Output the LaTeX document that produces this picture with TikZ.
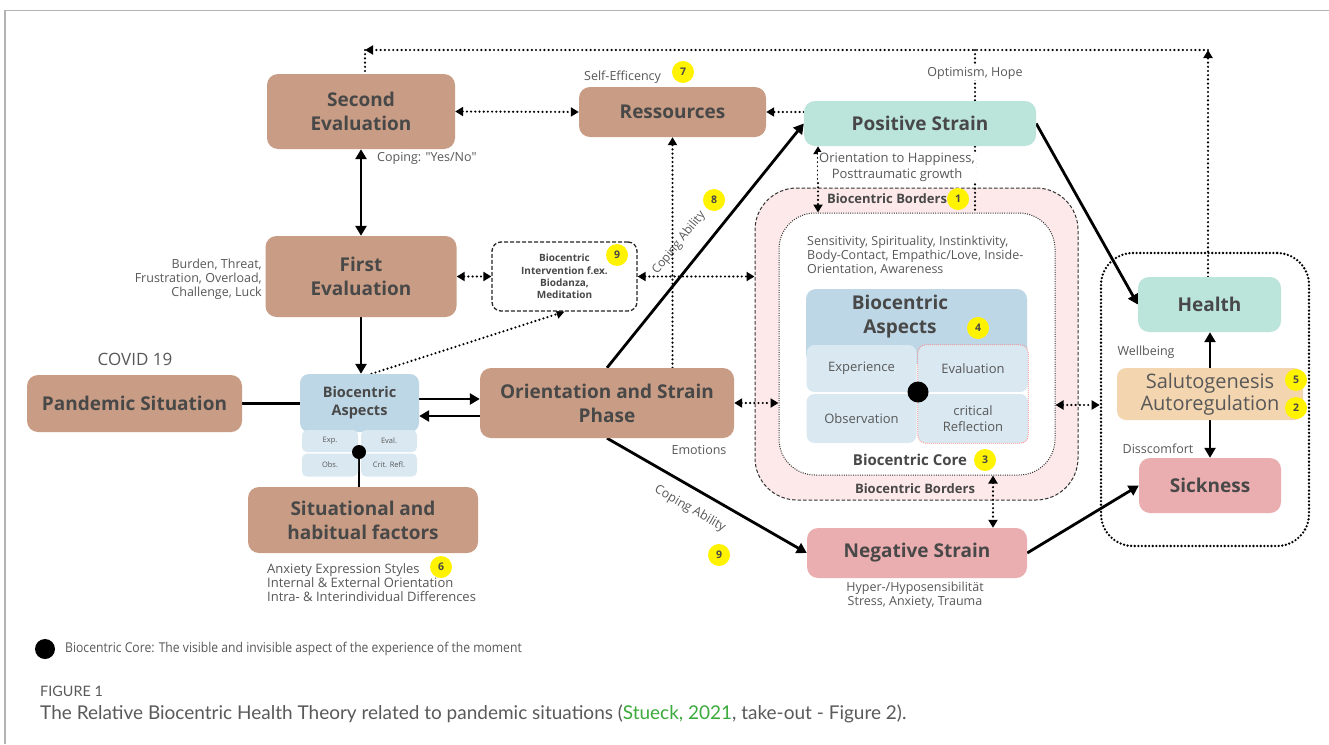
\documentclass[tikz,border=0pt]{standalone}
\usepackage{fontspec}
\setmainfont{Open Sans}
\newfontfamily\capfont{Lato}
\usetikzlibrary{arrows.meta}
\definecolor{brownbox}{RGB}{201,157,133}
\definecolor{tealbox}{RGB}{187,228,219}
\definecolor{pinkbox}{RGB}{235,174,176}
\definecolor{blueH}{RGB}{190,215,230}
\definecolor{blueS}{RGB}{217,232,241}
\definecolor{peach}{RGB}{243,213,176}
\definecolor{pinkbg}{RGB}{253,233,233}
\definecolor{txtc}{RGB}{72,72,72}
\definecolor{lblc}{RGB}{88,88,88}
\definecolor{yel}{RGB}{255,243,0}
\definecolor{capgreen}{RGB}{60,170,60}
\definecolor{capgray}{RGB}{90,90,90}
\pgfdeclarelayer{back}\pgfdeclarelayer{bg}\pgfsetlayers{back,bg,main}
\begin{document}
\begin{tikzpicture}[x=1pt,y=-1pt,
 bbox/.style={rectangle, rounded corners=11pt, inner sep=0pt, align=center, text=txtc, font=\bfseries\fontsize{19}{24}\selectfont},
 lbl/.style={inner sep=1pt, text=lblc, font=\fontsize{12.5}{14.5}\selectfont},
 ycirc/.style={circle, fill=yel, inner sep=0pt, minimum size=22pt, text=txtc, font=\bfseries\fontsize{10.5}{12}\selectfont},
 sarr/.style={line width=2.8pt, -{Triangle[length=10pt,width=11pt]}},
 sboth/.style={line width=2.8pt, {Triangle[length=10pt,width=11pt]}-{Triangle[length=10pt,width=11pt]}},
 sline/.style={line width=2.8pt},
 dline/.style={line width=2.4pt, line cap=round, dash pattern=on 0pt off 4.2pt},
 darr/.style={dline, -{Triangle[length=8pt,width=9pt]}},
 dboth/.style={dline, {Triangle[length=8pt,width=9pt]}-{Triangle[length=8pt,width=9pt]}},
 sub/.style={rectangle, rounded corners=8pt, fill=blueS, inner sep=0pt, align=center, text=lblc, font=\fontsize{13}{16}\selectfont},
 ssub/.style={rectangle, rounded corners=5pt, fill=blueS, inner sep=0pt, text=lblc, font=\fontsize{7.5}{9}\selectfont, minimum width=56pt},
]
\useasboundingbox (0,0) rectangle (1329,744);
\begin{pgfonlayer}{back}
\fill[white] (0,0) rectangle (1329,744);
\draw[gray!60, line width=1.2pt] (5,744) -- (5,10.5) -- (1329,10.5);
\node[draw=black!80, line width=1pt, dash pattern=on 3.5pt off 2pt, fill=pinkbg, rounded corners=42pt, minimum width=323pt, minimum height=312pt, inner sep=0pt] (outer) at (916.5,344) {};
\node[draw=black!80, line width=1pt, dash pattern=on 1pt off 1.3pt, fill=white, rounded corners=36pt, minimum width=276pt, minimum height=262pt, inner sep=0pt] (inner) at (917,344) {};
\node[draw=black, line width=2.6pt, line cap=round, dash pattern=on 0pt off 3.6pt, rounded corners=32pt, minimum width=208pt, minimum height=293pt, inner sep=0pt] (rg) at (1205,399.5) {};
\end{pgfonlayer}

% main boxes
\node[bbox, fill=brownbox, minimum width=188pt, minimum height=75pt] (se) at (361,111.5) {Second\\Evaluation};
\node[bbox, fill=brownbox, minimum width=187pt, minimum height=50pt] (res) at (672.5,112) {Ressources};
\node[bbox, fill=tealbox, minimum width=232pt, minimum height=45pt] (ps) at (920,123.5) {Positive Strain};
\node[bbox, fill=brownbox, minimum width=191pt, minimum height=81pt] (fe) at (361,276.5) {First\\Evaluation};
\node[draw=black!85, line width=1.3pt, dash pattern=on 4pt off 2pt, rounded corners=9pt, fill=white, minimum width=145pt, minimum height=69pt, inner sep=0pt, align=center, text=txtc, font=\bfseries\fontsize{10}{12.3}\selectfont] (intv) at (564.5,276.5) {Biocentric\\Intervention f.ex.\\Biodanza,\\Meditation};
\node[bbox, fill=brownbox, minimum width=215pt, minimum height=57pt] (pand) at (134.5,403.5) {Pandemic Situation};
\node[bbox, fill=brownbox, minimum width=254pt, minimum height=70pt] (orient) at (607,403) {Orientation and Strain\\Phase};
\node[bbox, fill=brownbox, minimum width=230pt, minimum height=66pt] (sit) at (363,520) {Situational and\\habitual factors};
\node[bbox, fill=pinkbox, minimum width=220pt, minimum height=50pt] (ns) at (917,553) {Negative Strain};
\node[bbox, fill=tealbox, minimum width=143pt, minimum height=55pt] (health) at (1209.5,304.5) {Health};
\node[bbox, fill=peach, rounded corners=9pt, minimum width=186pt, minimum height=52pt, font=\fontsize{20}{22}\selectfont, text=lblc] (salu) at (1210,394) {Salutogenesis\\Autoregulation};
\node[bbox, fill=pinkbox, minimum width=142pt, minimum height=55pt] (sick) at (1210,485.5) {Sickness};

% small aspects
\node[bbox, fill=blueH, rounded corners=9pt, minimum width=119pt, minimum height=58pt, font=\bfseries\fontsize{14.5}{18}\selectfont] (sah) at (359.5,403) {Biocentric\\Aspects};
\node[ssub, minimum height=22pt] (sexp) at (330,441) {Exp.};
\node[ssub, minimum height=22pt] (seval) at (389,441) {Eval.};
\node[ssub, minimum height=23pt] (sobs) at (330,465) {Obs.};
\node[ssub, minimum height=23pt] (scrit) at (389,465) {Crit. Refl.};
\node[circle, fill=black, minimum size=14pt, inner sep=0pt] (sdot) at (359,452) {};

% big aspects
\node[bbox, fill=blueH, rounded corners=10pt, minimum width=221pt, minimum height=75pt] (bah) at (916.5,326.5) {};
\node[text=txtc, align=center, font=\bfseries\fontsize{19}{24}\selectfont] (baht) at (900,317) {Biocentric\\Aspects};
\node[ycirc] (c4) at (978,328) {4};
\node[sub, minimum width=110pt, minimum height=47pt] (bexp) at (861.5,368.5) {Experience};
\node[sub, minimum width=110pt, minimum height=47pt] (beval) at (973,368.5) {Evaluation};
\node[sub, minimum width=110pt, minimum height=49pt] (bobs) at (861.5,418.5) {Observation};
\node[sub, minimum width=110pt, minimum height=49pt] (bcrit) at (973,418.5) {critical\\Reflection};
\draw[red!45, line width=0.8pt, dash pattern=on 1pt off 1pt, rounded corners=8pt] (beval.north west) rectangle (bcrit.south east);
\node[circle, fill=black, minimum size=21pt, inner sep=0pt] (bdot) at (918,392) {};

% border labels
\node[text=txtc, font=\bfseries\fontsize{13}{15}\selectfont] (bb1) at (887,199) {Biocentric Borders};
\node[ycirc] (c1) at (958,199) {1};
\node[lbl, anchor=north west, align=left, font=\fontsize{12.5}{14}\selectfont] (sens) at (806,235) {Sensitivity, Spirituality, Instinktivity,\\Body-Contact, Empathic/Love, Inside-\\Orientation, Awareness};
\node[text=txtc, font=\bfseries\fontsize{15}{18}\selectfont] (bcore) at (910,460) {Biocentric Core};
\node[ycirc] (c3) at (985,460) {3};
\node[text=txtc, font=\bfseries\fontsize{13}{15}\selectfont] (bb2) at (915,489) {Biocentric Borders};

% labels
\node[lbl, anchor=west] (cop) at (376,158) {Coping: \textquotedbl Yes/No\textquotedbl};
\node[lbl, anchor=west] (selfe) at (583,77) {Self-Efficency};
\node[ycirc] (c7) at (683,72) {7};
\node[lbl, fill=white] (opt) at (975,73) {Optimism, Hope};
\node[lbl, fill=white, align=center, font=\fontsize{13}{16}\selectfont] (orh) at (897,167) {Orientation to Happiness,\\Posttraumatic growth};
\node[lbl, anchor=east, align=right, font=\fontsize{12.5}{14}\selectfont] (burd) at (263,279) {Burden, Threat,\\Frustration, Overload,\\Challenge, Luck};
\node[ycirc] (c9a) at (617,255) {9};
\node[lbl, font=\fontsize{17}{20}\selectfont] (covid) at (135,359) {COVID 19};
\node[lbl] (emo) at (699,450) {Emotions};
\node[lbl, rotate=51, font=\fontsize{12}{14}\selectfont] (cab1) at (679,243) {Coping Ability};
\node[ycirc] (c8) at (714,200) {8};
\node[lbl, rotate=-30] (cab2) at (690,509) {Coping Ability};
\node[ycirc] (c9b) at (719,555) {9};
\node[lbl, align=center] (hyp) at (915,595) {Hyper-/Hyposensibilität\\Stress, Anxiety, Trauma};
\node[lbl] (well) at (1146,352) {Wellbeing};
\node[lbl] (disc) at (1158,449) {Disscomfort};
\node[ycirc] (c5) at (1296,380) {5};
\node[ycirc] (c2) at (1296,408) {2};
\node[lbl, anchor=north west, align=left, font=\fontsize{13}{14}\selectfont] (anx) at (266,562) {Anxiety Expression Styles\\Internal \& External Orientation\\Intra- \& Interindividual Differences};
\node[ycirc] (c6) at (441,567) {6};

% legend and caption
\node[circle, fill=black, minimum size=20pt, inner sep=0pt] (ldot) at (45,649) {};
\node[anchor=west, inner sep=0pt, text=lblc, font=\fontsize{13.5}{15}\selectfont] (ltext) at (65,649) {\scalebox{0.9}[1]{Biocentric Core: The visible and invisible aspect of the experience of the moment}};
\node[anchor=west, inner sep=0pt, text=capgray, font=\capfont\fontsize{14.4}{16}\selectfont] (figl) at (40,691) {FIGURE 1};
\node[anchor=west, inner sep=0pt, text=capgray, font=\capfont\fontsize{19}{22}\selectfont] (cap) at (40,714) {The Relative Biocentric Health Theory related to pandemic situations (\textcolor{capgreen}{Stueck, 2021}, take-out - Figure 2).};

% connectors
\begin{pgfonlayer}{bg}
\coordinate (tr) at (1208,50);
\coordinate (tl) at (365,50);
\coordinate (x975) at (975,50);
\coordinate (x818) at (818,0);
\coordinate (x993) at (993,0);
\coordinate (ya) at (0,399);
\coordinate (yb) at (0,416);
\coordinate (yc) at (0,405);
\draw[darr] (health.north -| tr) -- (tr);
\draw[darr] (tr) -- (tl);
\draw[dline] (tl) -- (tl |- se.north);
\draw[dboth] (se.east) -- (res.west);
\draw[darr] (ps.west |- res.east) -- (res.east);
\draw[darr] (orient.north -| res.south) -- (res.south);
\draw[dline] (x975) -- (x975 |- inner.north);
\draw[dboth] (ps.south -| x818) -- (inner.north -| x818);
\draw[dboth] (fe.east) -- (intv.west);
\draw[dboth] (intv.east) -- (intv.east -| outer.west);
\draw[darr] ([xshift=12pt]sah.north) -- (intv.south);
\draw[sboth] (se.south -| fe.north) -- (fe.north);
\draw[sarr] (fe.south) -- (fe.south |- sah.north);
\draw[sline] (pand.east) -- (pand.east -| sah.west);
\draw[sarr] (sah.east |- ya) -- (orient.west |- ya);
\draw[sarr] (orient.west |- yb) -- (sah.east |- yb);
\draw[sline] (sdot) -- (sdot |- sit.north);
\draw[sarr] (orient.north) -- (ps.west);
\draw[sarr] (orient.south) -- (ns.west);
\draw[dboth] (orient.east) -- (orient.east -| inner.west);
\draw[dboth] (inner.east |- yc) -- (rg.west |- yc);
\draw[dboth] (inner.south -| x993) -- (ns.north -| x993);
\draw[sarr] (ps.east) -- (health.west);
\draw[sarr] (ns.east) -- (sick.west);
\draw[sarr] (salu.north) -- (salu.north |- health.south);
\draw[sarr] (salu.south) -- (salu.south |- sick.north);
\end{pgfonlayer}
\end{tikzpicture}
\end{document}
